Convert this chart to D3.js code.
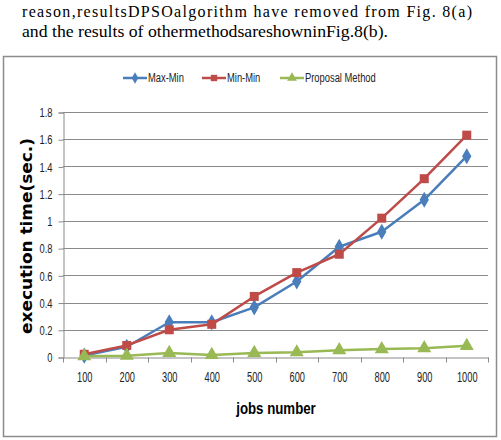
<!DOCTYPE html>
<html>
<head>
<meta charset="utf-8">
<script src="https://cdn.jsdelivr.net/npm/d3@7"></script>
<style>
  body { margin: 0; background: #fff; }
  svg { display: block; }
</style>
</head>
<body>
<svg></svg>
<script>
var jobs = ["100", "200", "300", "400", "500", "600", "700", "800", "900", "1000"];
var maxMin = [0.01, 0.075, 0.255, 0.255, 0.365, 0.555, 0.81, 0.92, 1.155, 1.475];
var minMin = [0.02, 0.085, 0.2, 0.24, 0.445, 0.62, 0.755, 1.02, 1.31, 1.63];
var proposal = [0.005, 0.01, 0.03, 0.015, 0.03, 0.035, 0.05, 0.058, 0.065, 0.082];
var yTicks = [0, 0.2, 0.4, 0.6, 0.8, 1, 1.2, 1.4, 1.6, 1.8];

var series = [
  { name: "Max-Min", values: maxMin, color: "#4a7ebb", shape: "diamond" },
  { name: "Min-Min", values: minMin, color: "#be4b48", shape: "square" },
  { name: "Proposal Method", values: proposal, color: "#98b954", shape: "triangle" }
];

var width = 501, height = 440;
var svg = d3.select("svg").attr("width", width).attr("height", height);

// squeeze text horizontally, the fonts here have no narrow cut
function condense(sel, k) {
  sel.each(function() {
    var w = this.getComputedTextLength();
    d3.select(this).attr("textLength", w * k).attr("lengthAdjust", "spacingAndGlyphs");
  });
}

// paragraph text above the chart
var serif = "'Liberation Serif', 'Times New Roman', serif";
svg.append("text")
    .attr("x", 22).attr("y", 17)
    .attr("textLength", 450).attr("lengthAdjust", "spacing")
    .style("font-family", serif).style("font-size", "16px")
    .text("reason,resultsDPSOalgorithm have removed from Fig. 8(a)");
svg.append("text")
    .attr("x", 22).attr("y", 37)
    .attr("textLength", 366).attr("lengthAdjust", "spacingAndGlyphs")
    .style("font-family", serif).style("font-size", "16px")
    .text("and the results of othermethodsareshowninFig.8(b).");

// chart frame
svg.append("rect")
    .attr("x", 3.5).attr("y", 56.5)
    .attr("width", 493).attr("height", 380)
    .attr("fill", "none").attr("stroke", "#8c8c8c").attr("stroke-width", 1.5);

var sans = "'Liberation Sans', Arial, sans-serif";

var x = d3.scaleBand().domain(jobs).range([63, 488]);
var y = d3.scaleLinear().domain([0, 1.8]).range([357, 112]);

// gridlines
svg.append("g")
  .selectAll("line")
  .data(yTicks.slice(1))
  .enter().append("line")
    .attr("x1", 63).attr("x2", 488)
    .attr("y1", function(d) { return Math.round(y(d)) + 0.5; })
    .attr("y2", function(d) { return Math.round(y(d)) + 0.5; })
    .attr("stroke", "#8a8a8a").attr("stroke-width", 1);

// y axis
var yAxis = svg.append("g")
    .attr("transform", "translate(63.5,0.5)")
    .call(d3.axisLeft(y).tickValues(yTicks).tickSize(5).tickPadding(6)
      .tickFormat(function(d) { return d3.format("~g")(d); }));
yAxis.selectAll("path, line").attr("stroke", "#8a8a8a");
yAxis.selectAll("text")
    .style("font-family", sans).style("font-size", "13px").attr("fill", "#222")
    .call(condense, 0.72);

// x axis
var xAxis = svg.append("g")
    .attr("transform", "translate(0.5," + (y(0) + 0.5) + ")")
    .call(d3.axisBottom(x).tickSize(0).tickPadding(15));
xAxis.select(".domain").attr("stroke", "#8a8a8a");
xAxis.selectAll("text")
    .style("font-family", sans).style("font-size", "14px").attr("fill", "#222")
    .call(condense, 0.66);
xAxis.selectAll(".sep")
  .data(jobs.concat(["end"]))
  .enter().append("line")
    .attr("class", "sep")
    .attr("x1", function(d, i) { return Math.round(x.range()[0] + i * x.step()); })
    .attr("x2", function(d, i) { return Math.round(x.range()[0] + i * x.step()); })
    .attr("y1", 0).attr("y2", 5)
    .attr("stroke", "#8a8a8a");

// axis titles
svg.append("text")
    .attr("transform", "translate(32,236) rotate(-90)")
    .attr("text-anchor", "middle")
    .style("font-family", "'DejaVu Sans', sans-serif")
    .style("font-size", "15px").style("font-weight", "bold")
    .attr("textLength", 196).attr("lengthAdjust", "spacingAndGlyphs")
    .text("execution time(sec.)");
svg.append("text")
    .attr("x", 276).attr("y", 414)
    .attr("text-anchor", "middle")
    .style("font-family", sans)
    .style("font-size", "17px").style("font-weight", "bold")
    .text("jobs number")
    .call(condense, 0.78);

function cx(i) { return x(jobs[i]) + x.bandwidth() / 2; }

var symbols = { diamond: d3.symbolDiamond, square: d3.symbolSquare, triangle: d3.symbolTriangle };
var sizes = { diamond: 75, square: 81, triangle: 85 };

var line = d3.line()
    .x(function(d, i) { return cx(i); })
    .y(function(d) { return y(d); });

series.forEach(function(s) {
  var g = svg.append("g");
  g.append("path")
      .attr("d", line(s.values))
      .attr("fill", "none")
      .attr("stroke", s.color)
      .attr("stroke-width", 2.5)
      .attr("stroke-linejoin", "round");
  g.selectAll("path.mark")
    .data(s.values)
    .enter().append("path")
      .attr("class", "mark")
      .attr("d", d3.symbol().type(symbols[s.shape]).size(sizes[s.shape]))
      .attr("transform", function(d, i) { return "translate(" + cx(i) + "," + y(d) + ")"; })
      .attr("fill", s.color);
});

// legend
var legendX = [123, 202, 280];
var legend = svg.append("g").selectAll("g")
  .data(series)
  .enter().append("g")
    .attr("transform", function(d, i) { return "translate(" + legendX[i] + ",78)"; });
legend.append("line")
    .attr("x1", 0).attr("x2", 24)
    .attr("stroke", function(d) { return d.color; })
    .attr("stroke-width", 2.5);
legend.append("path")
    .attr("d", function(d) { return d3.symbol().type(symbols[d.shape]).size(sizes[d.shape] * 0.5)(); })
    .attr("transform", "translate(12,0)")
    .attr("fill", function(d) { return d.color; });
legend.append("text")
    .attr("x", 25).attr("dy", "0.35em")
    .style("font-family", sans).style("font-size", "12px").attr("fill", "#222")
    .text(function(d) { return d.name; })
    .call(condense, 0.78);
</script>
</body>
</html>
